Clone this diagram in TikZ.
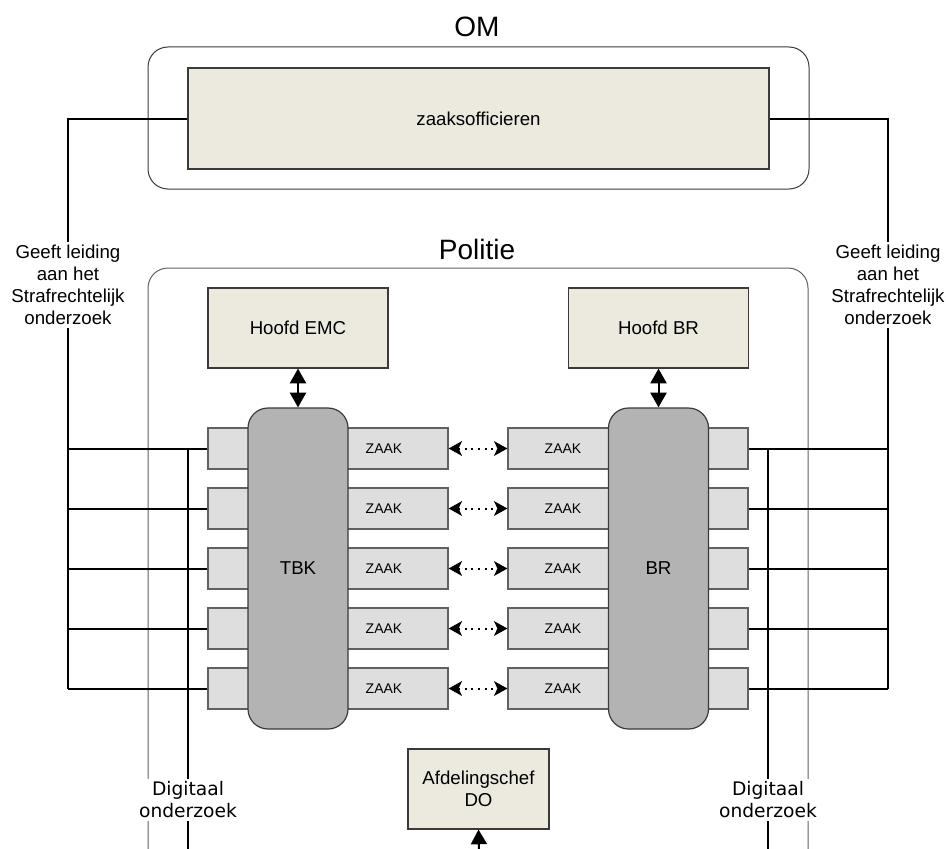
\documentclass[tikz,border=0pt]{standalone}
\usepackage{fontspec}
\setmainfont{Liberation Sans}
\newfontfamily\dvfont{DejaVu Sans}
\usetikzlibrary{arrows.meta}
\definecolor{beige}{HTML}{ECE9DF}
\definecolor{tbkgray}{HTML}{B3B3B3}
\definecolor{rowgray}{HTML}{DEDEDE}
\definecolor{edge}{HTML}{3A3A3A}
\begin{document}
\begin{tikzpicture}[x=0.75pt,y=-0.75pt,
  beigebox/.style={draw=edge, line width=0.9pt, fill=beige, inner sep=0pt, font=\fontsize{14}{16.5}\selectfont, align=center},
  unitbox/.style={draw=edge, line width=0.9pt, fill=tbkgray, rounded corners=15pt, minimum width=75pt, minimum height=240.75pt, inner sep=0pt, font=\fontsize{14}{16.5}\selectfont},
  rowbox/.style={draw=edge!80, line width=0.9pt, fill=rowgray, minimum width=180pt, minimum height=30.75pt, inner sep=0pt},
  zaaklabel/.style={font=\fontsize{10.5}{12}\selectfont, inner sep=0pt},
  conn/.style={line width=1.5pt, black},
  thinline/.style={line width=0.75pt, draw=edge!80},
  sidelabel/.style={fill=white, align=center, font=\fontsize{14}{16.5}\selectfont, inner sep=2pt},
  diglabel/.style={fill=white, align=center, font=\dvfont\fontsize{14}{16.5}\selectfont, inner sep=2pt},
  big/.style={font=\fontsize{21}{25}\selectfont, inner sep=0pt, anchor=base},
  duo/.style={line width=1.5pt, {Triangle[width=12pt,length=11pt]}-{Triangle[width=12pt,length=11pt]}},
  dotarrow/.style={line width=1.5pt, dash pattern=on 1.5pt off 3.5pt, {Stealth[width=11pt,length=10pt,inset=2.5pt]}-{Stealth[width=11pt,length=10pt,inset=2.5pt]}},
]
\useasboundingbox (0,0) rectangle (946,849);

% titles
\node[big] (omtitle) at (477,37) {OM};
\node[big] (poltitle) at (477,259) {Politie};

% Politie outline (continues below the picture)
\draw[thinline, rounded corners=15pt] (148,849) -- (148,268) -- (808,268) -- (808,849);

% OM box
\node[draw=edge, line width=0.75pt, rounded corners=15pt, minimum width=495.75pt, minimum height=106.5pt, inner sep=0pt] (om) at (478.5,118) {};
\node[beigebox, minimum width=435.75pt, minimum height=75.75pt] (zo) at (478.5,118.5) {zaaksofficieren};

% connectors from zaaksofficieren
\coordinate (lt) at (68,118.5);
\coordinate (lb) at (68,688.5);
\coordinate (rt) at (888,118.5);
\coordinate (rb) at (888,688.5);
\draw[conn] (zo.west) -- (lt) -- (lb);
\draw[conn] (zo.east) -- (rt) -- (rb);

% rows
\foreach \i/\y in {1/448.5,2/508.5,3/568.5,4/628.5,5/688.5} {
  \node[rowbox] (l\i) at (328,\y) {};
  \node[rowbox] (r\i) at (628,\y) {};
  \node[zaaklabel] (lz\i) at (384,\y) {ZAAK};
  \node[zaaklabel] (rz\i) at (563,\y) {ZAAK};
  \draw[conn] (l\i.west) -- (l\i.west -| lt);
  \draw[conn] (r\i.east) -- (r\i.east -| rt);
  \draw[dotarrow] (l\i.east) -- (r\i.west);
}

% digital research lines
\coordinate (ldt) at (188,448.5);
\coordinate (ldb) at (188,849);
\coordinate (rdt) at (768,448.5);
\coordinate (rdb) at (768,849);
\draw[conn] (ldt) -- (ldb);
\draw[conn] (rdt) -- (rdb);

% units
\node[unitbox] (tbk) at (298,568.5) {TBK};
\node[unitbox] (br) at (658.5,568.5) {BR};

% heads
\node[beigebox, minimum width=135pt, minimum height=60pt] (hemc) at (298,328) {Hoofd EMC};
\node[beigebox, minimum width=135pt, minimum height=60pt] (hbr) at (658.5,328) {Hoofd BR};
\draw[duo] (hemc.south) -- (tbk.north);
\draw[duo] (hbr.south) -- (br.north);

% labels
\node[sidelabel] (lgl) at (68,285) {Geeft leiding\\aan het\\Strafrechtelijk\\onderzoek};
\node[sidelabel] (rgl) at (888,285) {Geeft leiding\\aan het\\Strafrechtelijk\\onderzoek};
\node[diglabel] (ldig) at (188,800) {Digitaal\\onderzoek};
\node[diglabel] (rdig) at (768,800) {Digitaal\\onderzoek};

% Afdelingschef DO
\node[beigebox, minimum width=105.75pt, minimum height=60pt] (afd) at (478.5,789) {Afdelingschef\\DO};
\coordinate (afdin) at (479,849);
\draw[conn, -{Triangle[width=12pt,length=11pt]}] (afdin) -- (afd.south);
\end{tikzpicture}
\end{document}
